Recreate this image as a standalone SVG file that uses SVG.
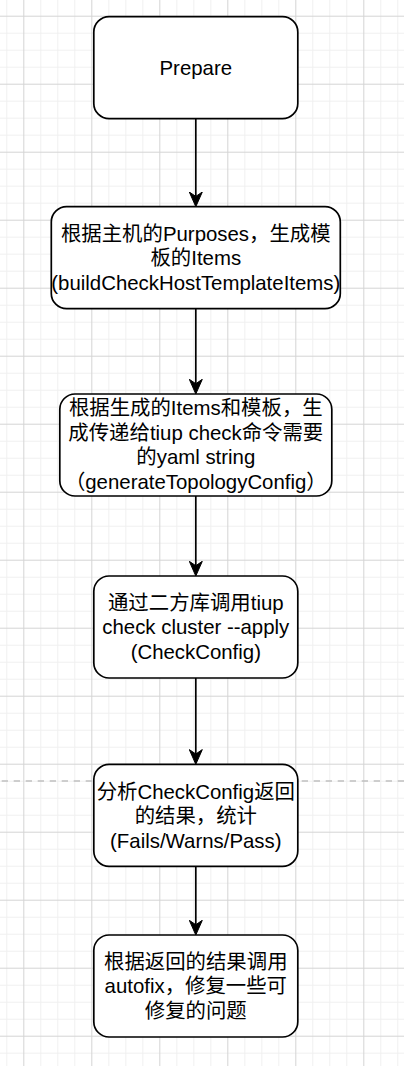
<svg xmlns="http://www.w3.org/2000/svg" width="404" height="1066" viewBox="0 0 404 1066">
<defs>
<style>
.box{fill:#ffffff;stroke:#000000;stroke-width:1.7}
.lbl{font-family:"Liberation Sans","Noto Sans CJK SC",sans-serif;font-size:20.4px;fill:#000000;text-anchor:middle}
.edge{fill:none;stroke:#000000;stroke-width:1.7}
</style>
<pattern id="grid" x="23.3" y="15.7" width="68" height="68" patternUnits="userSpaceOnUse">
<rect x="17" y="0" width="1" height="68" fill="#f0f0f0"/>
<rect x="34" y="0" width="1" height="68" fill="#f0f0f0"/>
<rect x="51" y="0" width="1" height="68" fill="#f0f0f0"/>
<rect x="0" y="17" width="68" height="1" fill="#f0f0f0"/>
<rect x="0" y="34" width="68" height="1" fill="#f0f0f0"/>
<rect x="0" y="51" width="68" height="1" fill="#f0f0f0"/>
<rect x="0" y="0" width="1" height="68" fill="#d4d4d4"/>
<rect x="0" y="0" width="68" height="1" fill="#d4d4d4"/>
</pattern>
<marker id="arrow" viewBox="-15 -7 16 14" refX="-10" refY="0" markerWidth="16" markerHeight="14" markerUnits="userSpaceOnUse" orient="auto">
<path d="M0,0 L-14.7,-6.5 L-10.3,0 L-14.7,6.5 Z" fill="#000000" stroke="#000000" stroke-width="1" stroke-linejoin="miter"/>
</marker>
</defs>
<rect x="0" y="0" width="404" height="1066" fill="#ffffff"/>
<rect x="0" y="0" width="404" height="1066" fill="url(#grid)"/>
<line x1="-10.3" y1="781" x2="404" y2="781" stroke="#c0c0c0" stroke-width="1.7" stroke-dasharray="6.3 5.7"/>
<g id="connectors">
<line class="edge" x1="195.8" y1="118.7" x2="195.8" y2="196.7" marker-end="url(#arrow)"/>
<line class="edge" x1="195.8" y1="308.7" x2="195.8" y2="384" marker-end="url(#arrow)"/>
<line class="edge" x1="195.8" y1="496" x2="195.8" y2="566" marker-end="url(#arrow)"/>
<line class="edge" x1="195.8" y1="678" x2="195.8" y2="754.3" marker-end="url(#arrow)"/>
<line class="edge" x1="195.8" y1="866.3" x2="195.8" y2="925" marker-end="url(#arrow)"/>
</g>
<g id="prepare">
<rect class="box" x="93.8" y="16.7" width="204" height="102" rx="15.3" ry="15.3"/>
<text class="lbl" x="195.8" y="75">Prepare</text>
</g>
<g id="build-items">
<rect class="box" x="51.3" y="206.7" width="289" height="102" rx="15.3" ry="15.3"/>
<text class="lbl" x="195.8" y="240.6">根据主机的Purposes，生成模</text>
<text class="lbl" x="195.8" y="265.1">板的Items</text>
<text class="lbl" x="195.8" y="289.6">(buildCheckHostTemplateItems)</text>
</g>
<g id="generate-config">
<rect class="box" x="59.8" y="394" width="272" height="102" rx="15.3" ry="15.3"/>
<text class="lbl" x="195.8" y="415.3">根据生成的Items和模板，生</text>
<text class="lbl" x="195.8" y="439.8">成传递给tiup check命令需要</text>
<text class="lbl" x="195.8" y="464.3">的yaml string</text>
<text class="lbl" x="195.8" y="488.8">（generateTopologyConfig）</text>
</g>
<g id="check-config">
<rect class="box" x="93.8" y="576" width="204" height="102" rx="15.3" ry="15.3"/>
<text class="lbl" x="195.8" y="609.6">通过二方库调用tiup</text>
<text class="lbl" x="195.8" y="634.1">check cluster --apply</text>
<text class="lbl" x="195.8" y="658.6">(CheckConfig)</text>
</g>
<g id="analyze">
<rect class="box" x="93.8" y="764.3" width="204" height="102" rx="15.3" ry="15.3"/>
<text class="lbl" x="195.8" y="798.6">分析CheckConfig返回</text>
<text class="lbl" x="195.8" y="823.1">的结果，统计</text>
<text class="lbl" x="195.8" y="847.6">(Fails/Warns/Pass)</text>
</g>
<g id="autofix">
<rect class="box" x="93.8" y="935" width="204" height="102" rx="15.3" ry="15.3"/>
<text class="lbl" x="195.8" y="968.8">根据返回的结果调用</text>
<text class="lbl" x="195.8" y="993.3">autofix，修复一些可</text>
<text class="lbl" x="195.8" y="1017.8">修复的问题</text>
</g>
</svg>
